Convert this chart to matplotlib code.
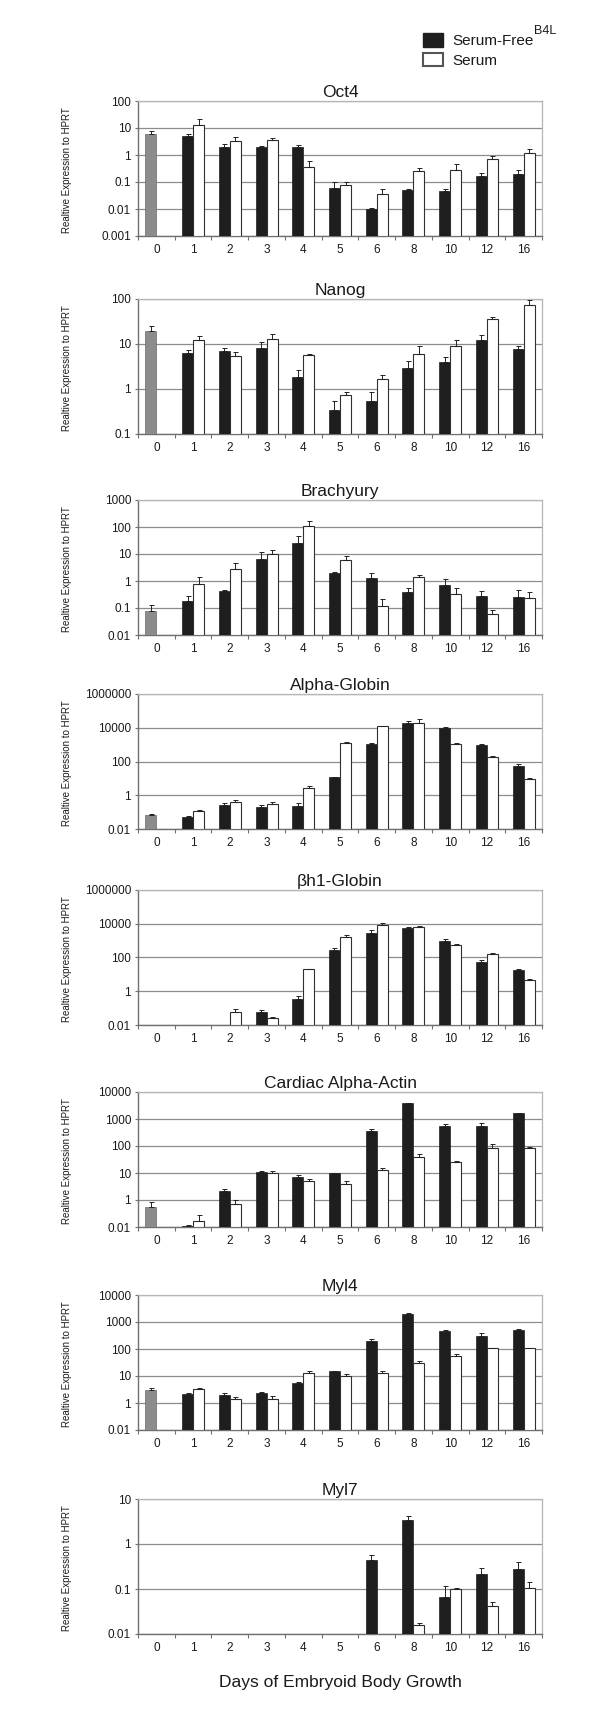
import numpy as np
import matplotlib.pyplot as plt
from matplotlib.patches import Patch
from matplotlib.ticker import FixedLocator, FixedFormatter, NullLocator

plt.rcParams['font.family'] = ['Liberation Sans', 'DejaVu Sans']

nan = np.nan

days = ['0', '1', '2', '3', '4', '5', '6', '8', '10', '12', '16']
genes = ['Oct4', 'Nanog', 'Brachyury', 'Alpha-Globin', 'βh1-Globin',
         'Cardiac Alpha-Actin', 'Myl4', 'Myl7']

# day 0 (ES cells, grey bar): mean and top of error bar, one per gene
day0 = [5.8, 19, 0.078, 0.072, nan, 0.54, 3.16, nan]
day0_hi = [7.7, 25, 0.128, 0.075, nan, 0.81, 3.74, nan]

# days 1..16: serum-free (B4L) and serum, mean + top of error bar
oct4_sf = [4.9, 2.0, 2.0, 2.0, 0.059, 0.010, 0.050, 0.045, 0.17, 0.19]
oct4_sf_hi = [6.0, 2.6, 2.2, 2.4, 0.098, 0.011, 0.054, 0.056, 0.21, 0.27]
oct4_se = [12.5, 3.3, 3.5, 0.37, 0.077, 0.036, 0.25, 0.29, 0.74, 1.2]
oct4_se_hi = [21, 4.5, 4.4, 0.58, 0.098, 0.056, 0.34, 0.46, 0.89, 1.6]

nanog_sf = [6.3, 7.1, 8.2, 1.84, 0.34, 0.53, 3.0, 3.9, 12.2, 7.6]
nanog_sf_hi = [7.4, 8.2, 10.8, 2.7, 0.53, 0.86, 4.2, 5.1, 15.6, 8.8]
nanog_se = [12.4, 5.4, 13.1, 5.8, 0.73, 1.71, 6.1, 8.8, 36, 74]
nanog_se_hi = [14.8, 6.5, 17, 5.9, 0.86, 2.0, 8.8, 12, 39, 96]

brachy_sf = [0.176, 0.41, 6.8, 25, 2.06, 1.26, 0.38, 0.73, 0.27, 0.26]
brachy_sf_hi = [0.28, 0.48, 11.7, 47, 2.2, 2.06, 0.54, 1.22, 0.42, 0.47]
brachy_se = [0.79, 2.68, 9.9, 106, 5.9, 0.117, 1.37, 0.33, 0.058, 0.235]
brachy_se_hi = [1.46, 4.5, 14.4, 164, 8.3, 0.22, 1.6, 0.53, 0.085, 0.38]

aglob_sf = [0.055, 0.25, 0.21, 0.22, 11.5, 1150, 20000, 10000, 1000, 57]
aglob_sf_hi = [0.06, 0.35, 0.28, 0.33, 12.6, 1320, 25000, 11500, 1150, 69]
aglob_se = [0.11, 0.38, 0.29, 2.6, 1260, 12000, 20000, 1150, 190, 9.1]
aglob_se_hi = [0.13, 0.55, 0.40, 3.5, 1450, 13200, 31600, 1320, 210, 10.5]

bh1_sf = [nan, nan, 0.061, 0.35, 283, 2900, 5500, 960, 56, 19]
bh1_sf_hi = [nan, nan, 0.08, 0.51, 387, 4000, 6500, 1200, 73, 22]
bh1_se = [nan, 0.061, 0.027, 19.6, 1720, 9000, 6500, 560, 157, 4.6]
bh1_se_hi = [nan, 0.083, 0.029, 21, 2050, 11000, 7200, 640, 180, 5.1]

cardiac_sf = [0.11, 2.1, 11.3, 7.1, 9.6, 350, 3800, 550, 550, 1600]
cardiac_sf_hi = [0.115, 2.5, 12.3, 8.1, 10.4, 420, 4000, 650, 700, 1700]
cardiac_se = [0.17, 0.69, 10.4, 4.9, 3.8, 13, 37.7, 24.8, 82, 82]
cardiac_se_hi = [0.29, 0.97, 12.3, 5.8, 4.9, 15.4, 50, 28, 115, 88]

myl4_sf = [2.07, 2.0, 2.26, 5.5, 15.2, 200, 2000, 450, 300, 500]
myl4_sf_hi = [2.25, 2.25, 2.5, 5.9, 15.5, 230, 2200, 520, 380, 560]
myl4_se = [3.44, 1.36, 1.36, 12.9, 9.7, 12.9, 29.9, 55, 105, 105]
myl4_se_hi = [3.6, 1.7, 1.8, 15.2, 11.5, 15, 37, 65, 110, 110]

myl7_sf = [nan, nan, nan, nan, nan, 0.45, 3.5, 0.067, 0.22, 0.28]
myl7_sf_hi = [nan, nan, nan, nan, nan, 0.58, 4.2, 0.116, 0.30, 0.40]
myl7_se = [nan, nan, nan, nan, nan, nan, 0.016, 0.10, 0.041, 0.103]
myl7_se_hi = [nan, nan, nan, nan, nan, nan, 0.018, 0.107, 0.051, 0.145]

# y-axis ticks and their printed labels, as in the figure
ticks = [
    [0.001, 0.01, 0.1, 1, 10, 100],
    [0.1, 1, 10, 100],
    [0.01, 0.1, 1, 10, 100, 1000],
    [0.01, 1, 100, 10000, 1000000],
    [0.01, 1, 100, 10000, 1000000],
    [0.1, 1, 10, 100, 1000, 10000],
    [0.1, 1, 10, 100, 1000, 10000],
    [0.01, 0.1, 1, 10],
]
tick_labels = [
    ['0.001', '0.01', '0.1', '1', '10', '100'],
    ['0.1', '1', '10', '100'],
    ['0.01', '0.1', '1', '10', '100', '1000'],
    ['0.01', '1', '100', '10000', '1000000'],
    ['0.01', '1', '100', '10000', '1000000'],
    ['0.01', '1', '10', '100', '1000', '10000'],
    ['0.01', '1', '10', '100', '1000', '10000'],
    ['0.01', '0.1', '1', '10'],
]

serum_free = [oct4_sf, nanog_sf, brachy_sf, aglob_sf, bh1_sf, cardiac_sf, myl4_sf, myl7_sf]
serum_free_hi = [oct4_sf_hi, nanog_sf_hi, brachy_sf_hi, aglob_sf_hi, bh1_sf_hi,
                 cardiac_sf_hi, myl4_sf_hi, myl7_sf_hi]
serum = [oct4_se, nanog_se, brachy_se, aglob_se, bh1_se, cardiac_se, myl4_se, myl7_se]
serum_hi = [oct4_se_hi, nanog_se_hi, brachy_se_hi, aglob_se_hi, bh1_se_hi,
            cardiac_se_hi, myl4_se_hi, myl7_se_hi]

# layout (pixels of a 600x1730 canvas)
W, H = 600, 1730
left_px, right_px = 138, 542
tops_px = [101, 299, 500, 694, 890, 1092, 1295, 1499]
height_px = 135

BLACK = '#1e1e1e'
GREY = '#8c8c8c'
TXT = '#1a1a1a'

fig = plt.figure(figsize=(W / 100, H / 100), dpi=100)

x = np.arange(len(days))
bw = 0.3

for k, gene in enumerate(genes):
    top = tops_px[k]
    ax = fig.add_axes([left_px / W, 1 - (top + height_px) / H,
                       (right_px - left_px) / W, height_px / H])
    ax.set_yscale('log')
    ymin, ymax = ticks[k][0], ticks[k][-1]

    v0 = np.array([day0[k]])
    sf = np.array(serum_free[k], dtype=float)
    se = np.array(serum[k], dtype=float)
    sf_hi = np.array(serum_free_hi[k], dtype=float)
    se_hi = np.array(serum_hi[k], dtype=float)

    ax.bar(x[:1] - bw / 2, v0 - ymin, bottom=ymin, width=bw, color=GREY,
           edgecolor='#6a6a6a', linewidth=0.5, zorder=3)
    ax.bar(x[1:] - bw / 2, sf - ymin, bottom=ymin, width=bw, color=BLACK,
           edgecolor=BLACK, linewidth=0.5, zorder=3)
    ax.bar(x[1:] + bw / 2, se - ymin, bottom=ymin, width=bw, color='white',
           edgecolor='#303030', linewidth=0.8, zorder=3)

    err_kw = dict(fmt='none', ecolor='#222222', elinewidth=0.7,
                  capsize=1.8, capthick=0.7, zorder=4)
    ax.errorbar(x[:1] - bw / 2, v0, yerr=[[0], np.array([day0_hi[k]]) - v0], **err_kw)
    ax.errorbar(x[1:] - bw / 2, sf, yerr=[np.zeros_like(sf), sf_hi - sf], **err_kw)
    ax.errorbar(x[1:] + bw / 2, se, yerr=[np.zeros_like(se), se_hi - se], **err_kw)

    ax.set_ylim(ymin, ymax)
    ax.set_xlim(-0.5, len(days) - 0.5)
    ax.yaxis.set_major_locator(FixedLocator(ticks[k]))
    ax.yaxis.set_major_formatter(FixedFormatter(tick_labels[k]))
    ax.yaxis.set_minor_locator(NullLocator())
    ax.set_xticks(x)
    ax.set_xticklabels(days)
    ax.set_xticks(np.arange(-0.5, len(days), 1), minor=True)
    ax.tick_params(axis='x', which='major', length=0, pad=6,
                   labelsize=8.5, labelcolor=TXT)
    ax.tick_params(axis='x', which='minor', length=3, width=0.8, color='#707070')
    ax.tick_params(axis='y', which='major', length=2.5, width=0.8, pad=2.5,
                   color='#707070', labelsize=8.5, labelcolor=TXT)

    ax.yaxis.grid(True, color='#8c8c8c', linewidth=0.9, zorder=0)
    ax.set_axisbelow(True)
    for side in ['top', 'right']:
        ax.spines[side].set_color('#b5b5b5')
        ax.spines[side].set_linewidth(0.9)
    for side in ['left', 'bottom']:
        ax.spines[side].set_color('#707070')
        ax.spines[side].set_linewidth(1.0)

    ax.set_title(gene, fontsize=12.5, color=TXT, pad=3)
    fig.text(67 / W, 1 - (top + height_px / 2 + 2) / H,
             'Realtive Expression to HPRT', rotation=90, ha='center',
             va='center', fontsize=7, color=TXT)

fig.text((left_px + right_px) / 2 / W, 1 - 1682 / H,
         'Days of Embryoid Body Growth', ha='center', va='center',
         fontsize=12.5, color=TXT)

handles = [Patch(facecolor=BLACK, edgecolor=BLACK, linewidth=1.0),
           Patch(facecolor='white', edgecolor='#555555', linewidth=1.5)]
fig.legend(handles, ['Serum-Free', 'Serum'], loc='upper left',
           bbox_to_anchor=(423 / W, 1 - 33 / H), frameon=False,
           fontsize=11, handlelength=1.3, handleheight=1.0,
           handletextpad=0.65, labelspacing=0.3, borderpad=0,
           borderaxespad=0, labelcolor=TXT)
fig.text(545 / W, 1 - 31 / H, 'B4L', ha='center', va='center',
         fontsize=9, color=TXT)

fig.savefig('out.png', dpi=100, facecolor='white')
